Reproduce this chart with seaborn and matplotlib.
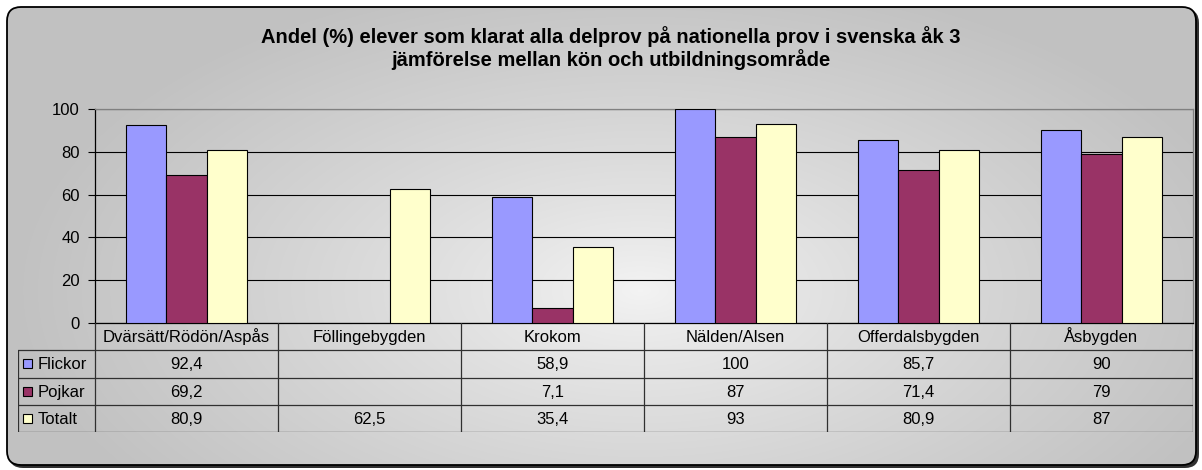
import numpy as np
import pandas as pd
import matplotlib
matplotlib.use("Agg")
import matplotlib.pyplot as plt
from matplotlib.patches import FancyBboxPatch, Rectangle
import seaborn as sns

categories = ["Dvärsätt/Rödön/Aspås", "Föllingebygden", "Krokom", "Nälden/Alsen", "Offerdalsbygden", "Åsbygden"]
flickor = [92.4, np.nan, 58.9, 100, 85.7, 90]
pojkar = [69.2, np.nan, 7.1, 87, 71.4, 79]
totalt = [80.9, 62.5, 35.4, 93, 80.9, 87]
series_names = ["Flickor", "Pojkar", "Totalt"]
colors = ["#9999FF", "#993366", "#FFFFCC"]
title = "Andel (%) elever som klarat alla delprov på nationella prov i svenska åk 3\njämförelse mellan kön och utbildningsområde"

sns.set_theme(style="white")
plt.rcParams["font.family"] = ["Liberation Sans", "DejaVu Sans"]

W, H = 1202, 470
fig = plt.figure(figsize=(W / 100, H / 100), dpi=100)
fig.patch.set_facecolor("white")

def px_axes(l, t, r, b):
    return fig.add_axes([l / W, 1 - b / H, (r - l) / W, (b - t) / H])

FS = 12

# background
bg = fig.add_axes([0, 0, 1, 1])
bg.set_xlim(0, W)
bg.set_ylim(H, 0)
bg.axis("off")
yy, xx = np.mgrid[0:H, 0:W]
d = np.sqrt(((xx - 640) / 620.0) ** 2 + ((yy - 290) / 320.0) ** 2)
d = np.clip(d, 0, 1)
val = 0.955 - (0.955 - 0.76) * d ** 0.85
img = np.dstack([val, val, val])
shadow = FancyBboxPatch((9, 9), 1190, 459, boxstyle="round,pad=0,rounding_size=14",
                        facecolor="#303030", edgecolor="none", zorder=1)
bg.add_patch(shadow)
box = FancyBboxPatch((7, 7), 1189, 458, boxstyle="round,pad=0,rounding_size=14",
                     facecolor="none", edgecolor="black", linewidth=1.3, zorder=3)
bg.add_patch(box)
im = bg.imshow(img, extent=(0, W, H, 0), zorder=2, interpolation="bilinear")
im.set_clip_path(box)

bg.text(611, 48, title, ha="center", va="center", fontsize=14.5, fontweight="bold",
        color="black", linespacing=1.12, zorder=4)

# main plot
L, T, R, B = 95, 109, 1193, 323
ax = px_axes(L, T, R, B)
ax.set_facecolor("none")
df = pd.DataFrame({
    "Område": np.repeat(categories, 3),
    "Serie": series_names * len(categories),
    "Värde": np.ravel(np.column_stack([flickor, pojkar, totalt])),
})
sns.barplot(data=df, x="Område", y="Värde", hue="Serie", order=categories,
            hue_order=series_names, palette=colors, saturation=1, width=0.66,
            edgecolor="black", linewidth=0.8, ax=ax, legend=False, zorder=3)
ax.set_xlim(-0.5, len(categories) - 0.5)
ax.set_ylim(0, 100)
ax.set_yticks(range(0, 101, 20))
ax.yaxis.grid(True, color="black", linewidth=0.8, zorder=0)
ax.set_axisbelow(True)
ax.set_xticks([])
ax.set_xlabel("")
ax.set_ylabel("")
ax.tick_params(axis="y", left=True, length=5, width=0.8, color="black",
               labelsize=FS, labelcolor="black", pad=6)
for s in ["left", "bottom"]:
    ax.spines[s].set_color("black")
    ax.spines[s].set_linewidth(0.9)
for s in ["top", "right"]:
    ax.spines[s].set_color("#808080")
    ax.spines[s].set_linewidth(0.9)

# data table
TL, TB = 18, 432
tab = px_axes(TL, B, R, TB)
tab.set_facecolor("none")
unit = (R - L) / len(categories)
xleft = -0.5 - (L - TL) / unit
xright = len(categories) - 0.5
tab.set_xlim(xleft, xright)
tab.set_ylim(4, 0)
tab.axis("off")
lc = "#303030"
lw = 0.9
for r in [1, 2, 3, 4]:
    tab.plot([xleft, xright], [r, r], color=lc, lw=lw)
for i in range(len(categories) + 1):
    tab.plot([i - 0.5, i - 0.5], [0, 4], color=lc, lw=lw)
tab.plot([xleft, xleft], [1, 4], color=lc, lw=lw)

def fmt(v):
    if v is None or (isinstance(v, float) and np.isnan(v)):
        return ""
    return f"{v:g}".replace(".", ",")

BOFF = 0.2  # baseline offset below row centre (in row units)
for i, c in enumerate(categories):
    tab.text(i, 0.5 + BOFF, c, ha="center", va="baseline", fontsize=FS, color="black")
rows = [flickor, pojkar, totalt]
for r, (name, vals, col) in enumerate(zip(series_names, rows, colors)):
    y = r + 1.5
    sq_w = 9 / unit
    sq_h = 9 / 27.25
    tab.add_patch(Rectangle((xleft + 5 / unit, y - sq_h / 2), sq_w, sq_h,
                            facecolor=col, edgecolor="black", linewidth=0.8))
    tab.text(xleft + 20 / unit, y + BOFF, name, ha="left", va="baseline", fontsize=FS, color="black")
    for i, v in enumerate(vals):
        tab.text(i, y + BOFF, fmt(v), ha="center", va="baseline", fontsize=FS, color="black")

fig.savefig("out.png", dpi=100)
